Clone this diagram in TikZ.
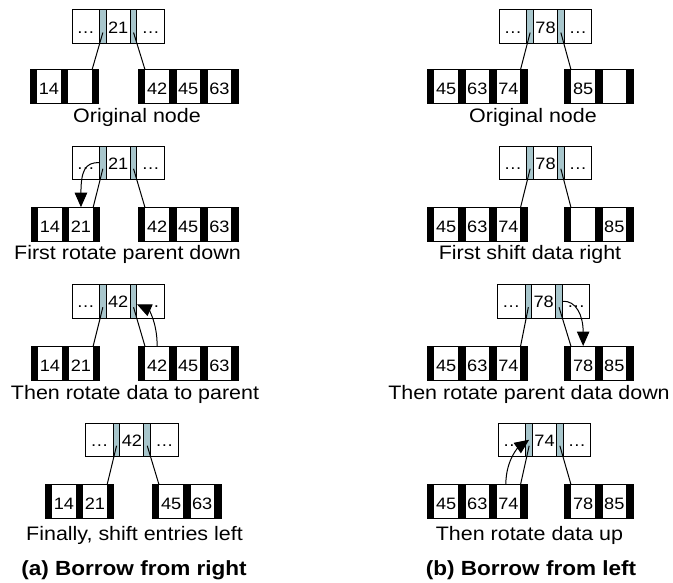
\documentclass[tikz,border=0pt]{standalone}
\usepackage{fontspec}
\setmainfont{Liberation Sans}[FakeStretch=1.1]
\usetikzlibrary{arrows.meta,calc}
\definecolor{stripgray}{RGB}{168,198,204}
\tikzset{
  pcell/.style={draw=black, line width=0.9pt, fill=white, inner sep=0pt, outer sep=0pt,
    minimum height=33.5pt, text height=13pt, text depth=0pt, font=\fontsize{16.5}{19}\selectfont},
  pstrip/.style={draw=black, line width=0.9pt, fill=stripgray, inner sep=0pt, outer sep=0pt,
    minimum height=33.5pt, minimum width=6.7pt},
  ccell/.style={draw=black, line width=0.9pt, fill=white, inner sep=0pt, outer sep=0pt,
    minimum height=34pt, minimum width=24.5pt, text height=16pt, text depth=0pt, font=\fontsize{16.5}{19}\selectfont},
  bar/.style={draw=black, line width=0.9pt, fill=black, inner sep=0pt, outer sep=0pt,
    minimum height=34pt, minimum width=6.6pt},
  captext/.style={anchor=base, inner sep=0pt, font=\fontsize{19.5}{22}\selectfont},
  ttl/.style={anchor=base, inner sep=0pt, font=\bfseries\fontsize{20.5}{24}\selectfont},
  link/.style={line width=1pt},
  move/.style={line width=1pt, -{Triangle[length=14.5pt,width=12.5pt]}},
}
\newcommand\parentnode[4]{%
  \node[pcell, minimum width=27.5pt, anchor=north west] (#1-a) at (#2,#3) {…};
  \node[pstrip, anchor=north west] (#1-ls) at (#1-a.north east) {};
  \node[pcell, minimum width=24pt, anchor=north west] (#1-m) at (#1-ls.north east) {#4};
  \node[pstrip, anchor=north west] (#1-rs) at (#1-m.north east) {};
  \node[pcell, minimum width=27.5pt, anchor=north west] (#1-b) at (#1-rs.north east) {…};
}
\newcommand\childnode[4]{%
  \node[bar, anchor=north west] (#1-b0) at (#2,#3) {};
  \foreach \t [count=\i] in {#4} {%
    \pgfmathtruncatemacro\j{\i-1}%
    \node[ccell, anchor=north west] (#1-\i) at (#1-b\j.north east) {\t};
    \node[bar, anchor=north west] (#1-b\i) at (#1-\i.north east) {};
  }%
}
\begin{document}
\begin{tikzpicture}[x=1pt, y=-1pt]
\useasboundingbox (0,0) rectangle (673,582);
% ---------- left column ----------
% row 1
\parentnode{P1}{72}{9.8}{21}
\childnode{L1}{30}{69.3}{14,{}}
\childnode{R1}{138.3}{69.3}{42,45,63}
\draw[link] ($(P1-ls.center)+(0,6)$) -- (L1-b2.north west);
\draw[link] ($(P1-rs.center)+(0,6)$) -- (R1-b0.north east);
\node[captext] (c1) at (137,122.5) {Original node};
% row 2
\parentnode{P2}{72}{146}{21}
\childnode{L2}{31}{207.2}{14,21}
\childnode{R2}{138.3}{207.2}{42,45,63}
\draw[link] ($(P2-ls.center)+(0,6)$) -- (L2-b2.north west);
\draw[link] ($(P2-rs.center)+(0,6)$) -- (R2-b0.north east);
\draw[move] (P2-ls.west) .. controls +(-15,-1) and +(0,-35) .. (L2-2.north);
\node[captext] (c2) at (127.5,259) {First rotate parent down};
% row 3
\parentnode{P3}{72}{284.5}{42}
\childnode{L3}{31}{346}{14,21}
\childnode{R3}{138.3}{346}{42,45,63}
\draw[link] ($(P3-ls.center)+(0,6)$) -- (L3-b2.north west);
\draw[link] ($(P3-rs.center)+(0,6)$) -- (R3-b0.north east);
\draw[move] (R3-1.north) .. controls +(0,-25) and +(11,5) .. ($(P3-rs.east)+(0,3)$);
\node[captext] (c3) at (135,399.5) {Then rotate data to parent};
% row 4
\parentnode{P4}{85.7}{423}{42}
\childnode{L4}{45}{484.3}{14,21}
\childnode{R4}{152.3}{484.3}{45,63}
\draw[link] ($(P4-ls.center)+(0,6)$) -- (L4-b2.north west);
\draw[link] ($(P4-rs.center)+(0,6)$) -- (R4-b0.north east);
\node[captext] (c4) at (134.5,540.5) {Finally, shift entries left};
\node[ttl] (ta) at (134,575) {(a) Borrow from right};
% ---------- right column ----------
% row 1
\parentnode{Q1}{499.3}{9.8}{78}
\childnode{M1}{427.3}{69.3}{45,63,74}
\childnode{N1}{564.3}{69.3}{85,{}}
\draw[link] ($(Q1-ls.center)+(0,6)$) -- (M1-b3.north west);
\draw[link] ($(Q1-rs.center)+(0,6)$) -- (N1-b0.north east);
\node[captext] (d1) at (533,122.5) {Original node};
% row 2
\parentnode{Q2}{499.3}{146}{78}
\childnode{M2}{427.3}{207.2}{45,63,74}
\childnode{N2}{564.3}{207.2}{{},85}
\draw[link] ($(Q2-ls.center)+(0,6)$) -- (M2-b3.north west);
\draw[link] ($(Q2-rs.center)+(0,6)$) -- (N2-b0.north east);
\node[captext] (d2) at (530,259) {First shift data right};
% row 3
\parentnode{Q3}{497.5}{284.5}{78}
\childnode{M3}{427.3}{346}{45,63,74}
\childnode{N3}{564.3}{346}{78,85}
\draw[link] ($(Q3-ls.center)+(0,6)$) -- (M3-b3.north west);
\draw[link] ($(Q3-rs.center)+(0,6)$) -- (N3-b0.north east);
\draw[move] (Q3-rs.east) .. controls +(14,-1) and +(0,-30) .. (N3-1.north);
\node[captext] (d3) at (529,399.5) {Then rotate parent data down};
% row 4
\parentnode{Q4}{498.3}{423}{74}
\childnode{M4}{427.3}{484.3}{45,63,74}
\childnode{N4}{564.3}{484.3}{78,85}
\draw[link] ($(Q4-ls.center)+(0,6)$) -- (M4-b3.north west);
\draw[link] ($(Q4-rs.center)+(0,6)$) -- (N4-b0.north east);
\draw[move] ($(M4-3.north)+(-2.5,0)$) .. controls +(0,-25) and +(-10,7) .. (Q4-ls.center);
\node[captext] (d4) at (529.5,540.5) {Then rotate data up};
\node[ttl] (tb) at (531,575) {(b) Borrow from left};
\end{tikzpicture}
\end{document}
